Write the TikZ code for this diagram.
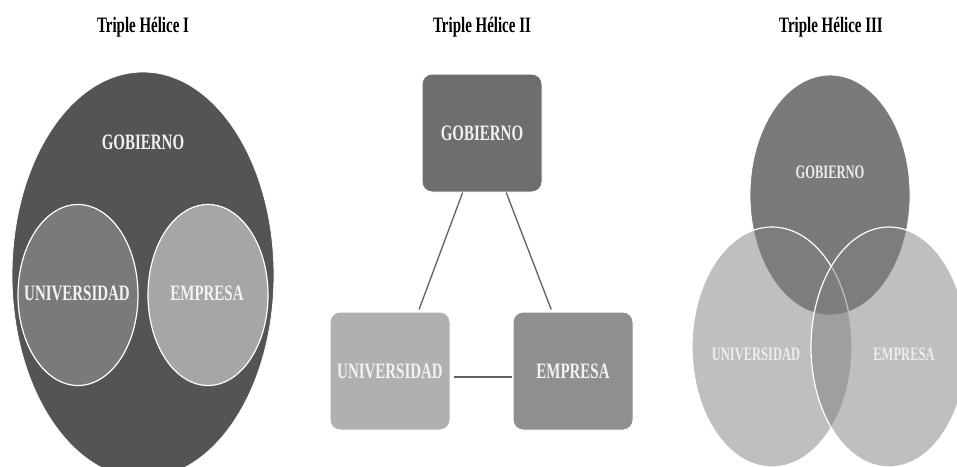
\documentclass[tikz,border=0pt]{standalone}
\usepackage{fontspec}
\setmainfont{Liberation Serif}
\newfontfamily\condfont[FakeStretch=0.68]{Liberation Serif}
\newfontfamily\condfontb[FakeStretch=0.66]{Liberation Serif}
\usetikzlibrary{shapes.geometric,calc}
\tikzset{
  ttl/.style={font=\condfont\bfseries\fontsize{22}{22}\selectfont, text=black, inner sep=0},
  lab/.style={font=\condfont\bfseries\fontsize{22}{22}\selectfont, text=white!95!black, inner sep=0},
  labs/.style={font=\condfontb\bfseries\fontsize{19}{19}\selectfont, text=white!93!black, inner sep=0},
  ell/.style={ellipse, draw=white, line width=1.2pt, inner sep=0},
  rbox/.style={rectangle, rounded corners=10pt, draw=white, line width=1pt, minimum width=120, minimum height=118, inner sep=0},
  conn/.style={draw=black!62, line width=1.3pt}
}
\begin{document}
\begin{tikzpicture}[x=1pt,y=-1pt]
\useasboundingbox (0,0) rectangle (957,466);
\clip (0,0) rectangle (957,466);
\fill[white] (0,0) rectangle (957,466);
% Panel I
\node[ttl] (t1) at (143,27) {Triple Hélice I};
\node[ell, fill=black!67, minimum width=262, minimum height=406, line width=0.8pt] (g1) at (143,275) {};
\node[lab] (g1l) at (143,142) {GOBIERNO};
\node[ell, fill=black!52, minimum width=120, minimum height=181] (u1) at (78,295) {};
\node[ell, fill=black!35, minimum width=120, minimum height=181] (e1) at (208,295) {};
\node[lab] (u1l) at (77,293) {UNIVERSIDAD};
\node[lab] (e1l) at (207,293) {EMPRESA};
% Panel II
\node[ttl] (t2) at (482,27) {Triple Hélice II};
\node[rbox, fill=black!57, lab] (g2) at (482,133) {GOBIERNO};
\node[rbox, fill=black!31, lab] (u2) at (390,371) {UNIVERSIDAD};
\node[rbox, fill=black!44, lab] (e2) at (573,371) {EMPRESA};
\path[conn] ($(g2.south west)!0.34!(g2.south east)$) -- ($(u2.north west)!0.74!(u2.north east)+(0,-2)$);
\path[conn] ($(g2.south west)!0.70!(g2.south east)$) -- ($(e2.north west)!0.32!(e2.north east)+(0,-2)$);
\path[conn] ($(u2.east)+(3,6)$) -- ($(e2.west)+(-1,6)$);
% Panel III
\node[ttl] (t3) at (831,27) {Triple Hélice III};
\node[ell, fill=black!52, minimum width=160, minimum height=240, line width=0.8pt] (g3) at (830,195) {};
\node[ell, fill=black!50, fill opacity=0.5, minimum width=160, minimum height=240] (u3) at (772,347) {};
\node[ell, fill=black!50, fill opacity=0.5, minimum width=156, minimum height=240] (e3) at (889,347) {};
\node[labs] (g3l) at (830,172) {GOBIERNO};
\node[labs] (u3l) at (756,354) {UNIVERSIDAD};
\node[labs] (e3l) at (904,354) {EMPRESA};
\end{tikzpicture}
\end{document}
